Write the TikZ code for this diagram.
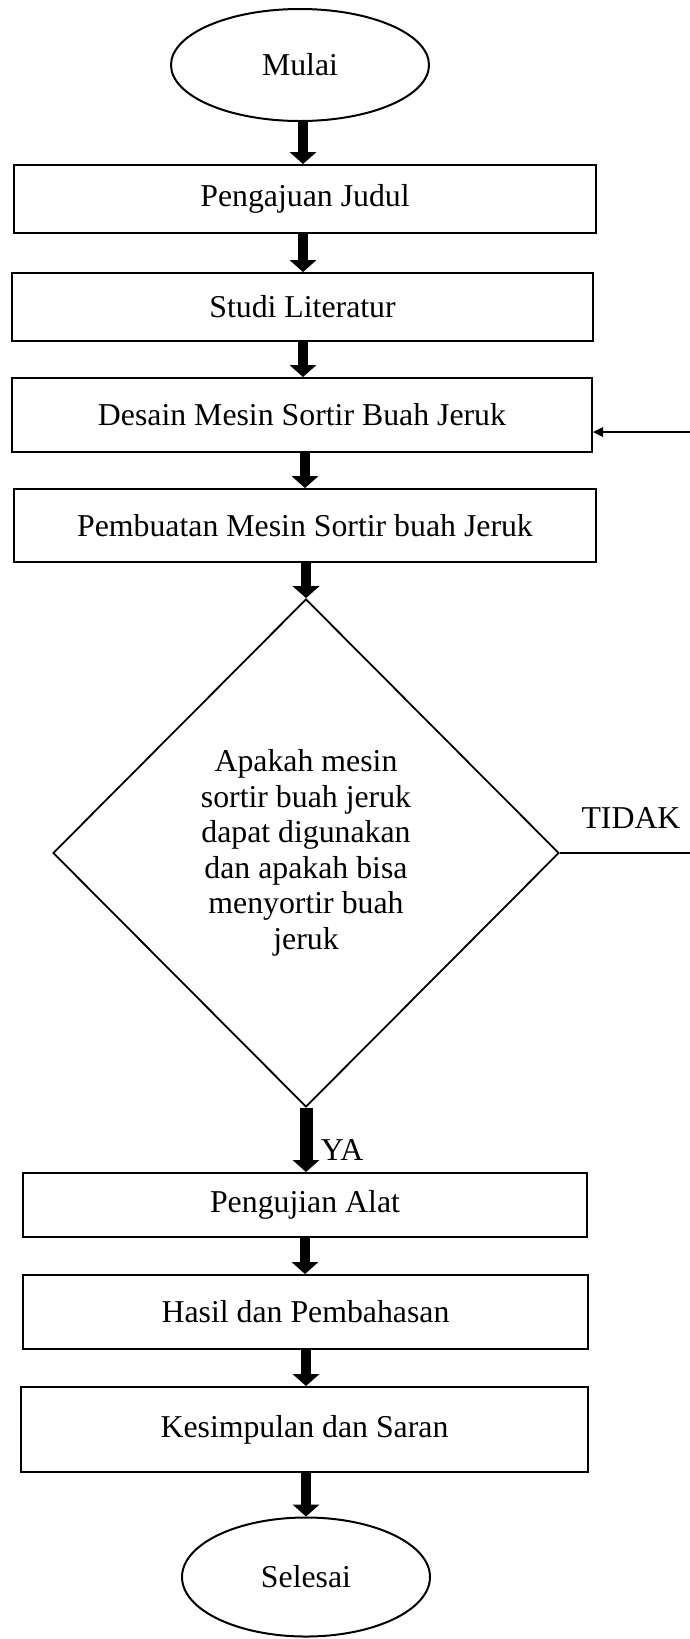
\documentclass[tikz,border=0pt]{standalone}
\usepackage{fontspec}
\setmainfont{Liberation Serif}
\usetikzlibrary{arrows.meta,shapes.geometric}
\begin{document}
\begin{tikzpicture}[x=1pt,y=-1pt,
  every node/.style={font=\fontsize{31.8}{35.5}\selectfont, inner sep=0pt},
  procbox/.style={draw, line width=2pt, rectangle},
  termin/.style={draw, line width=2pt, ellipse},
  decis/.style={draw, line width=1.8pt, diamond, align=center},
  fat/.style={line width=10pt, -{Triangle[width=27pt,length=12pt,line width=0pt]}},
  fatter/.style={line width=13pt, -{Triangle[width=27pt,length=12pt,line width=0pt]}},
  thinarr/.style={line width=1.6pt, -{Triangle[width=10pt,length=10pt,line width=0pt]}},
  plain/.style={line width=1.8pt}]
\useasboundingbox (0,0) rectangle (690,1639);
\node[termin, minimum width=258pt, minimum height=112pt] (mulai) at (300,65) {Mulai};
\node[procbox, minimum width=582pt, minimum height=68pt] (b1) at (305,199) {Pengajuan Judul};
\node[procbox, minimum width=581pt, minimum height=68pt] (b2) at (302.5,307) {Studi Literatur};
\node[procbox, minimum width=580pt, minimum height=74pt] (b3) at (302,415) {Desain Mesin Sortir Buah Jeruk};
\node[procbox, minimum width=582pt, minimum height=73pt] (b4) at (305,525.5) {Pembuatan Mesin Sortir buah Jeruk};
\node[decis, minimum width=506pt, minimum height=508pt] (dec) at (306,853) {Apakah mesin\\sortir buah jeruk\\dapat digunakan\\dan apakah bisa\\menyortir buah\\jeruk};
\node[procbox, minimum width=564pt, minimum height=64pt] (b5) at (305,1205) {Pengujian Alat};
\node[procbox, minimum width=565pt, minimum height=74pt] (b6) at (305.5,1312) {Hasil dan Pembahasan};
\node[procbox, minimum width=567pt, minimum height=85pt] (b7) at (304.5,1429.5) {Kesimpulan dan Saran};
\node[termin, minimum width=248pt, minimum height=119pt] (selesai) at (306,1577) {Selesai};
\node (tidak) at (631,818) {TIDAK};
\node (ya) at (342,1150) {YA};
\coordinate (fbin) at (690,432);
\coordinate (tdout) at (690,853);
\draw[fat] (mulai.south -| 303,0) -- (b1.north -| 303,0);
\draw[fat] (b1.south -| 303,0) -- (b2.north -| 303,0);
\draw[fat] (b2.south -| 303,0) -- (b3.north -| 303,0);
\draw[fat] (b3.south -| 305,0) -- (b4.north -| 305,0);
\draw[fat] (b4.south -| dec.north) -- (dec.north);
\draw[fatter] (dec.south) -- (b5.north -| dec.south);
\draw[fat] (b5.south -| 305,0) -- (b6.north -| 305,0);
\draw[fat] (b6.south -| 306,0) -- (b7.north -| 306,0);
\draw[fat] (b7.south -| selesai.north) -- (selesai.north);
\draw[plain] (dec.east) -- (tdout);
\draw[thinarr] (fbin) -- (b3.east |- fbin);
\end{tikzpicture}
\end{document}
